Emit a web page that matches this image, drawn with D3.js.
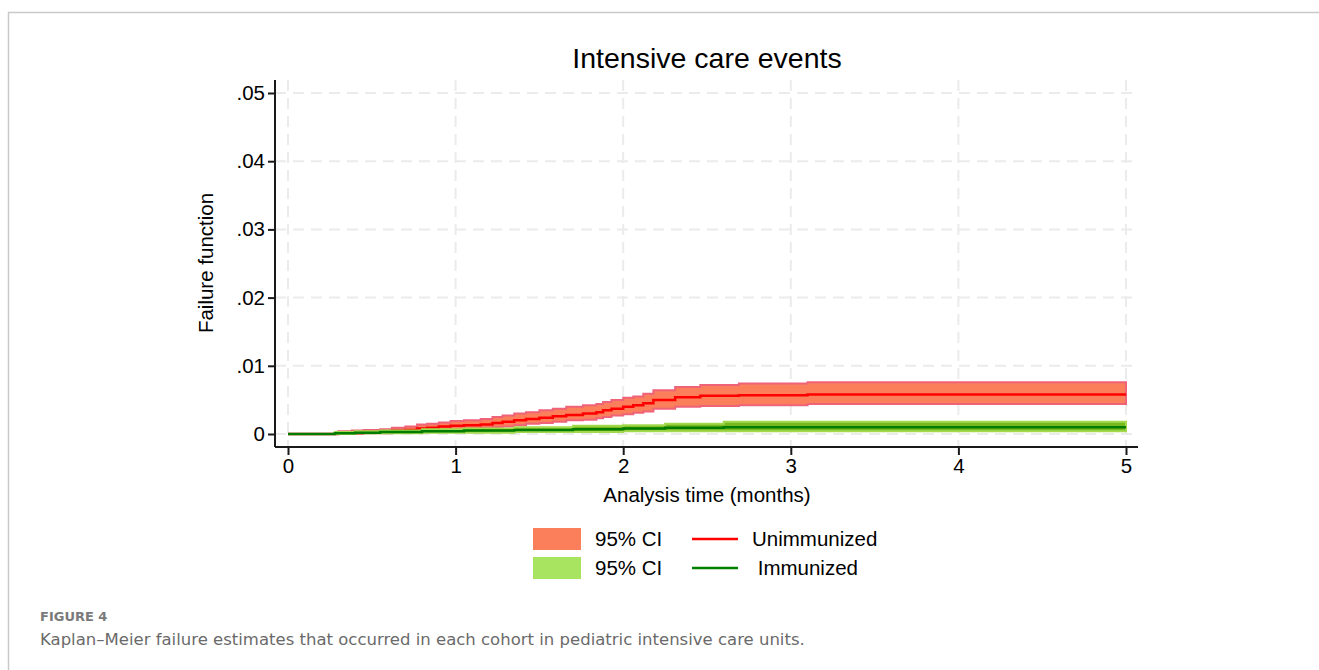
<!DOCTYPE html>
<html>
<head>
<meta charset="utf-8">
<script src="https://cdn.jsdelivr.net/npm/d3@7"></script>
<style>
  body { margin: 0; background: #fff; }
  svg text { font-family: "Liberation Sans", Arial, sans-serif; fill: #000; }
  .caption text { font-family: "DejaVu Sans", "Open Sans", sans-serif; fill: #6a6a6a; }
</style>
</head>
<body>
<svg id="chart" width="1319" height="670"></svg>
<script>
// Unimmunized cohort: event times (months), failure estimate, 95% CI
const unTime  = [0, 0.30, 0.38, 0.45, 0.55, 0.62, 0.70, 0.77, 0.83, 0.90, 0.97, 1.05, 1.15, 1.22, 1.28, 1.35, 1.42, 1.50, 1.58, 1.66, 1.76, 1.84, 1.88, 1.93, 2.00, 2.06, 2.12, 2.18, 2.31, 2.46, 2.69, 3.10, 5];
const unEst   = [0, 0.0001, 0.0002, 0.0003, 0.0004, 0.0005, 0.0006, 0.0008, 0.0009, 0.0011, 0.0012, 0.0013, 0.0014, 0.0016, 0.0018, 0.0020, 0.0022, 0.0024, 0.0026, 0.0028, 0.0030, 0.0032, 0.0035, 0.0037, 0.0040, 0.0042, 0.0045, 0.0050, 0.0054, 0.0056, 0.0057, 0.0058, 0.0058];
const unLow   = [0, 0.0000, 0.0000, 0.0001, 0.0001, 0.0002, 0.0003, 0.0004, 0.0005, 0.0006, 0.0007, 0.0008, 0.0009, 0.0010, 0.0011, 0.0013, 0.0015, 0.0016, 0.0018, 0.0020, 0.0021, 0.0023, 0.0025, 0.0027, 0.0029, 0.0031, 0.0033, 0.0037, 0.0040, 0.0041, 0.0042, 0.0044, 0.0044];
const unHigh  = [0, 0.0004, 0.0005, 0.0006, 0.0007, 0.0009, 0.0011, 0.0014, 0.0015, 0.0017, 0.0019, 0.0020, 0.0022, 0.0025, 0.0027, 0.0030, 0.0032, 0.0035, 0.0037, 0.0040, 0.0042, 0.0044, 0.0047, 0.0050, 0.0053, 0.0055, 0.0059, 0.0064, 0.0069, 0.0072, 0.0074, 0.0076, 0.0076];

// Immunized cohort
const imTime  = [0, 0.28, 0.40, 0.55, 0.80, 1.05, 1.35, 1.70, 2.00, 2.25, 2.60, 5];
const imEst   = [0, 0.0001, 0.0002, 0.0003, 0.0004, 0.0005, 0.0006, 0.0007, 0.0008, 0.0009, 0.0010, 0.0010];
const imLow   = [0, 0.0000, 0.0001, 0.0001, 0.0002, 0.0002, 0.0003, 0.0003, 0.0004, 0.0004, 0.0004, 0.0004];
const imHigh  = [0, 0.0003, 0.0004, 0.0005, 0.0007, 0.0008, 0.0010, 0.0012, 0.0013, 0.0015, 0.0018, 0.0018];

const xTicks = [0, 1, 2, 3, 4, 5];
const yTicks = [0, 0.01, 0.02, 0.03, 0.04, 0.05];
const yTickLabels = ["0", ".01", ".02", ".03", ".04", ".05"];

const legendItems = [
  { label: "95% CI", kind: "area", fill: "#fa7f5a" },
  { label: "Unimmunized", kind: "line", color: "#ff0000" },
  { label: "95% CI", kind: "area", fill: "#a8e460" },
  { label: " Immunized", kind: "line", color: "#008000" }
];

const svg = d3.select("#chart");

// page frame
svg.append("path")
  .attr("d", "M8.5,670 V12.5 H1319")
  .attr("fill", "none")
  .attr("stroke", "#c9c9c9")
  .attr("stroke-width", 1.5);

const plot = { left: 275, right: 1138, top: 80, bottom: 447 };

const x = d3.scaleLinear().domain([0, 5]).range([288, 1126]);
const y = d3.scaleLinear().domain([0, 0.05]).range([434, 93]);

// grid
svg.append("g").selectAll("line").data(yTicks).join("line")
  .attr("x1", plot.left).attr("x2", plot.right)
  .attr("y1", d => y(d)).attr("y2", d => y(d))
  .attr("stroke", "#ebebeb").attr("stroke-width", 2)
  .attr("stroke-dasharray", "11,7");

svg.append("g").selectAll("line").data(xTicks).join("line")
  .attr("x1", d => x(d)).attr("x2", d => x(d))
  .attr("y1", plot.top).attr("y2", plot.bottom)
  .attr("stroke", "#ebebeb").attr("stroke-width", 2)
  .attr("stroke-dasharray", "11,7");

// title
svg.append("text")
  .attr("x", 707).attr("y", 68)
  .attr("text-anchor", "middle")
  .style("font-size", "28.5px")
  .text("Intensive care events");

function drawCohort(times, est, lo, hi, fill, edge, lineColor) {
  const rows = times.map((t, i) => ({ t: t, e: est[i], l: lo[i], h: hi[i] }));

  const area = d3.area()
    .curve(d3.curveStepAfter)
    .x(d => x(d.t))
    .y0(d => y(d.l))
    .y1(d => y(d.h));

  svg.append("path")
    .attr("d", area(rows))
    .attr("fill", fill)
    .attr("stroke", edge)
    .attr("stroke-width", 2);

  const line = d3.line()
    .curve(d3.curveStepAfter)
    .x(d => x(d.t))
    .y(d => y(d.e));

  svg.append("path")
    .attr("d", line(rows))
    .attr("fill", "none")
    .attr("stroke", lineColor)
    .attr("stroke-width", 2.5);
}

drawCohort(unTime, unEst, unLow, unHigh, "#fa7f5a", "#ef6379", "#ff0000");
drawCohort(imTime, imEst, imLow, imHigh, "#78b91f", "#a3d94e", "#007d00");

// axes
const axisY = svg.append("g")
  .attr("transform", `translate(${plot.left},0)`)
  .call(d3.axisLeft(y).tickValues(yTicks).tickFormat((d, i) => yTickLabels[i]).tickSize(7).tickPadding(3));
axisY.select(".domain").attr("d", `M0,${plot.top}V${plot.bottom}`).attr("stroke-width", 2).attr("stroke", "#1a1a1a");
axisY.selectAll(".tick line").attr("stroke-width", 2).attr("stroke", "#1a1a1a");
axisY.selectAll("text").style("font-size", "20.5px").attr("fill", "#000");

const axisX = svg.append("g")
  .attr("transform", `translate(0,${plot.bottom})`)
  .call(d3.axisBottom(x).tickValues(xTicks).tickFormat(d3.format("d")).tickSize(8).tickPadding(3));
axisX.select(".domain").attr("d", `M${plot.left},0H${plot.right}`).attr("stroke-width", 2).attr("stroke", "#1a1a1a");
axisX.selectAll(".tick line").attr("stroke-width", 2).attr("stroke", "#1a1a1a");
axisX.selectAll("text").style("font-size", "20.5px").attr("fill", "#000");

// axis titles
svg.append("text")
  .attr("x", 707).attr("y", 502)
  .attr("text-anchor", "middle")
  .style("font-size", "20.5px")
  .text("Analysis time (months)");

svg.append("text")
  .attr("transform", "translate(213,263) rotate(-90)")
  .attr("text-anchor", "middle")
  .style("font-size", "20.5px")
  .text("Failure function");

// legend
const legend = svg.append("g");
legendItems.forEach((item, i) => {
  const row = Math.floor(i / 2);
  const cy = 539 + row * 29;
  if (item.kind === "area") {
    legend.append("rect")
      .attr("x", 533).attr("y", cy - 11)
      .attr("width", 48).attr("height", 22)
      .attr("fill", item.fill);
    legend.append("text")
      .attr("x", 595).attr("y", cy + 7)
      .style("font-size", "20.5px")
      .text(item.label);
  } else {
    legend.append("line")
      .attr("x1", 692).attr("x2", 738)
      .attr("y1", cy).attr("y2", cy)
      .attr("stroke", item.color).attr("stroke-width", 2.5);
    legend.append("text")
      .attr("x", 752).attr("y", cy + 7)
      .attr("xml:space", "preserve")
      .style("white-space", "pre")
      .style("font-size", "20.5px")
      .text(item.label);
  }
});

// caption
const cap = svg.append("g").attr("class", "caption");
cap.append("text")
  .attr("x", 40).attr("y", 621)
  .style("font-size", "13px")
  .style("font-weight", "600")
  .style("fill", "#7a7a7a")
  .text("FIGURE 4");
cap.append("text")
  .attr("x", 40).attr("y", 645)
  .style("font-size", "16.5px")
  .text("Kaplan\u2013Meier failure estimates that occurred in each cohort in pediatric intensive care units.");
</script>
</body>
</html>
